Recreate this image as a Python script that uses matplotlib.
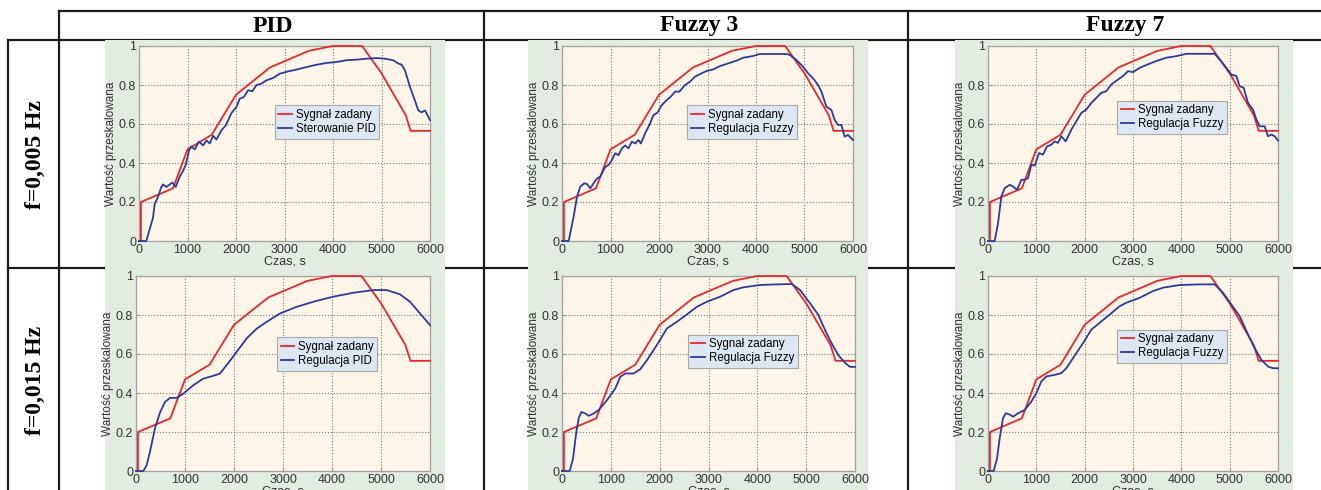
import matplotlib.pyplot as plt

plt.rcParams['font.family'] = ['Liberation Sans', 'DejaVu Sans']

# setpoint signal (same in every panel)
t_set = [0, 40, 40, 700, 1000, 1500, 2000, 2700, 3500, 4000, 4600, 5000, 5500, 5600, 6000]
y_set = [0, 0, 0.2, 0.27, 0.47, 0.545, 0.75, 0.89, 0.975, 1.0, 1.0, 0.86, 0.645, 0.565, 0.565]

# f = 0.005 Hz, PID
t_pid1 = [0, 150, 289, 323, 392, 461, 495, 564, 633, 688, 757, 840, 908, 963, 1032, 1080, 1149,
          1238, 1321, 1390, 1459, 1528, 1596, 1700, 1789, 1906, 2009, 2078, 2160, 2250, 2339,
          2422, 2525, 2628, 2766, 2904, 3076, 3248, 3454, 3660, 3866, 4072, 4280, 4486, 4693,
          4899, 5071, 5243, 5346, 5415, 5484, 5587, 5690, 5759, 5828, 5897, 6000]
y_pid1 = [0, 0, 0.12, 0.19, 0.226, 0.277, 0.29, 0.277, 0.29, 0.30, 0.277, 0.33, 0.36, 0.39,
          0.465, 0.485, 0.47, 0.51, 0.49, 0.516, 0.50, 0.54, 0.52, 0.568, 0.593, 0.656, 0.687,
          0.73, 0.738, 0.773, 0.768, 0.80, 0.807, 0.824, 0.836, 0.858, 0.87, 0.879, 0.892,
          0.904, 0.913, 0.918, 0.927, 0.93, 0.935, 0.938, 0.935, 0.927, 0.91, 0.904, 0.875,
          0.79, 0.72, 0.67, 0.66, 0.67, 0.62]

# f = 0.005 Hz, Fuzzy 3
t_fz3_1 = [0, 137, 240, 309, 377, 459, 514, 583, 651, 720, 789, 891, 960, 1029, 1097, 1166,
           1234, 1303, 1371, 1440, 1509, 1577, 1625, 1714, 1817, 1886, 1968, 2057, 2160, 2242,
           2331, 2420, 2537, 2640, 2743, 2880, 2983, 3120, 3257, 3429, 3600, 3737, 3943, 4080,
           4354, 4629, 4697, 4834, 4971, 5074, 5177, 5280, 5349, 5451, 5554, 5623, 5691, 5760,
           5829, 5897, 6000]
y_fz3_1 = [0, 0, 0.125, 0.227, 0.279, 0.296, 0.292, 0.27, 0.296, 0.32, 0.33, 0.38, 0.39, 0.415,
           0.45, 0.44, 0.475, 0.49, 0.475, 0.51, 0.50, 0.518, 0.50, 0.552, 0.603, 0.646, 0.658,
           0.697, 0.723, 0.74, 0.766, 0.766, 0.80, 0.817, 0.843, 0.86, 0.872, 0.88, 0.897, 0.911,
           0.925, 0.94, 0.949, 0.959, 0.959, 0.959, 0.954, 0.928, 0.894, 0.86, 0.834, 0.80,
           0.766, 0.689, 0.672, 0.62, 0.595, 0.595, 0.535, 0.544, 0.518]

# f = 0.005 Hz, Fuzzy 7
t_fz7_1 = [0, 138, 207, 276, 345, 448, 517, 600, 690, 759, 828, 897, 966, 1055, 1138, 1221,
           1310, 1379, 1448, 1517, 1607, 1724, 1828, 1931, 2034, 2138, 2241, 2345, 2448, 2552,
           2690, 2793, 2897, 3000, 3138, 3310, 3483, 3690, 3897, 4103, 4448, 4690, 4793, 4931,
           5034, 5138, 5207, 5290, 5379, 5483, 5552, 5621, 5724, 5793, 5862, 5931, 6000]
y_fz7_1 = [0, 0, 0.09, 0.228, 0.271, 0.288, 0.28, 0.262, 0.314, 0.314, 0.322, 0.391, 0.386,
           0.451, 0.443, 0.485, 0.494, 0.511, 0.503, 0.537, 0.511, 0.571, 0.614, 0.657, 0.674,
           0.708, 0.734, 0.76, 0.768, 0.803, 0.828, 0.846, 0.871, 0.866, 0.888, 0.906, 0.923,
           0.94, 0.948, 0.96, 0.96, 0.96, 0.931, 0.888, 0.854, 0.846, 0.794, 0.786, 0.708,
           0.674, 0.623, 0.588, 0.588, 0.537, 0.546, 0.537, 0.515]

# f = 0.015 Hz, PID
t_pid2 = [0, 150, 218, 286, 388, 490, 592, 694, 830, 966, 1170, 1374, 1578, 1714, 1850, 2054,
          2258, 2463, 2667, 2939, 3279, 3619, 4027, 4435, 4844, 5116, 5388, 5592, 5796, 6000]
y_pid2 = [0, 0, 0.03, 0.10, 0.22, 0.30, 0.354, 0.375, 0.375, 0.397, 0.44, 0.474, 0.488, 0.50,
          0.543, 0.611, 0.68, 0.73, 0.765, 0.808, 0.842, 0.868, 0.894, 0.914, 0.928, 0.928,
          0.906, 0.868, 0.808, 0.748]

# f = 0.015 Hz, Fuzzy 3
t_fz3_2 = [0, 157, 225, 293, 341, 395, 477, 545, 648, 750, 920, 1091, 1193, 1295, 1466, 1602,
           1739, 1943, 2148, 2352, 2557, 2761, 2966, 3239, 3511, 3716, 4057, 4398, 4705, 4875,
           5080, 5250, 5386, 5523, 5659, 5795, 5898, 6000]
y_fz3_2 = [0, 0, 0.063, 0.20, 0.269, 0.303, 0.295, 0.283, 0.295, 0.312, 0.363, 0.423, 0.483,
           0.50, 0.50, 0.522, 0.568, 0.646, 0.731, 0.765, 0.803, 0.842, 0.868, 0.894, 0.928,
           0.942, 0.954, 0.957, 0.959, 0.928, 0.86, 0.80, 0.723, 0.654, 0.594, 0.555, 0.534,
           0.534]

# f = 0.015 Hz, Fuzzy 7
t_fz7_2 = [0, 117, 186, 241, 310, 366, 448, 517, 621, 759, 897, 1000, 1103, 1207, 1379, 1517,
           1621, 1759, 1966, 2138, 2310, 2517, 2724, 2862, 3138, 3414, 3621, 3966, 4379, 4690,
           4862, 5034, 5207, 5379, 5517, 5655, 5793, 5897, 6000]
y_fz7_2 = [0, 0, 0.064, 0.167, 0.27, 0.296, 0.29, 0.278, 0.296, 0.313, 0.356, 0.399, 0.459,
           0.485, 0.493, 0.502, 0.527, 0.579, 0.656, 0.725, 0.76, 0.802, 0.845, 0.863, 0.888,
           0.923, 0.94, 0.954, 0.957, 0.957, 0.914, 0.854, 0.794, 0.70, 0.63, 0.57, 0.536,
           0.527, 0.527]

col_titles = ['PID', 'Fuzzy 3', 'Fuzzy 7']
row_titles = ['f=0,005 Hz', 'f=0,015 Hz']

W, H = 1321, 490
fig = plt.figure(figsize=(W / 100, H / 100), dpi=100)

# background layer in pixel coordinates
bg = fig.add_axes([0, 0, 1, 1])
bg.set_xlim(0, W)
bg.set_ylim(H, 0)
bg.axis('off')

lc = '#1c1c1c'
lw = 1.6
bg.plot([59, W], [11, 11], color=lc, lw=lw)
bg.plot([8, W], [40, 40], color=lc, lw=lw)
bg.plot([8, W], [268, 268], color=lc, lw=lw)
bg.plot([8, 8], [40, H], color=lc, lw=lw)
for x in [59, 484, 908]:
    bg.plot([x, x], [11, H], color=lc, lw=lw)

serif = {'family': 'Liberation Serif', 'weight': 'bold', 'size': 17}
for x, s in zip([273, 699, 1125], col_titles):
    bg.text(x, 26, s, ha='center', va='center', fontdict=serif)
for y, s in zip([154, 380], row_titles):
    bg.text(35, y, s, ha='center', va='center', rotation=90, fontdict=serif)

# green picture backgrounds
img_x = [(105, 445), (528, 868), (955, 1293)]
img_y = [(40, 268), (268, 490)]
for y0, y1 in img_y:
    for x0, x1 in img_x:
        bg.add_patch(plt.Rectangle((x0, y0), x1 - x0, y1 - y0, facecolor='#e2ece1',
                                   edgecolor='none', zorder=3))

panels = [
    ((139, 430, 46, 241), t_pid1, y_pid1, 'Sterowanie PID', (0.467, 0.695)),
    ((562, 853, 46, 241), t_fz3_1, y_fz3_1, 'Regulacja Fuzzy', (0.43, 0.695)),
    ((988, 1278, 46, 241), t_fz7_1, y_fz7_1, 'Regulacja Fuzzy', (0.445, 0.72)),
    ((136, 430, 276, 471), t_pid2, y_pid2, 'Regulacja PID', (0.48, 0.685)),
    ((562, 855, 276, 471), t_fz3_2, y_fz3_2, 'Regulacja Fuzzy', (0.43, 0.70)),
    ((988, 1278, 276, 471), t_fz7_2, y_fz7_2, 'Regulacja Fuzzy', (0.445, 0.725)),
]

for (x0, x1, y0, y1), tb, yb, lab, lpos in panels:
    ax = fig.add_axes([x0 / W, 1 - y1 / H, (x1 - x0) / W, (y1 - y0) / H])
    ax.set_facecolor('#fdf6e8')
    ax.plot(t_set, y_set, color='#e8282c', lw=1.3, label='Sygnał zadany', clip_on=False, zorder=3)
    ax.plot(tb, yb, color='#2b3b9c', lw=1.3, label=lab, clip_on=False, zorder=3)
    ax.set_xlim(0, 6000)
    ax.set_ylim(0, 1)
    ax.set_xticks([0, 1000, 2000, 3000, 4000, 5000, 6000])
    ax.set_yticks([0, 0.2, 0.4, 0.6, 0.8, 1])
    ax.set_yticklabels(['0', '0.2', '0.4', '0.6', '0.8', '1'])
    ax.grid(True, color='#7a7a7a', linestyle=':', lw=0.8)
    for sp in ax.spines.values():
        sp.set_color('#a0a0a0')
        sp.set_linewidth(0.9)
    ax.tick_params(direction='in', length=3, width=0.6, color='#909090', labelsize=9,
                   labelcolor='#333333', pad=2)
    ax.set_xlabel('Czas, s', fontsize=9, color='#333333', labelpad=0)
    ax.set_ylabel('Wartość przeskalowana', fontsize=8.5, color='#333333', labelpad=1)
    leg = ax.legend(loc='upper left', bbox_to_anchor=lpos, fontsize=8.3, fancybox=False,
                    framealpha=1, facecolor='#dce7f3', edgecolor='#a8a8a8',
                    handlelength=1.2, handletextpad=0.3, borderpad=0.3, labelspacing=0.2,
                    borderaxespad=0)
    leg.get_frame().set_linewidth(0.8)

fig.savefig('out.png', dpi=100)
